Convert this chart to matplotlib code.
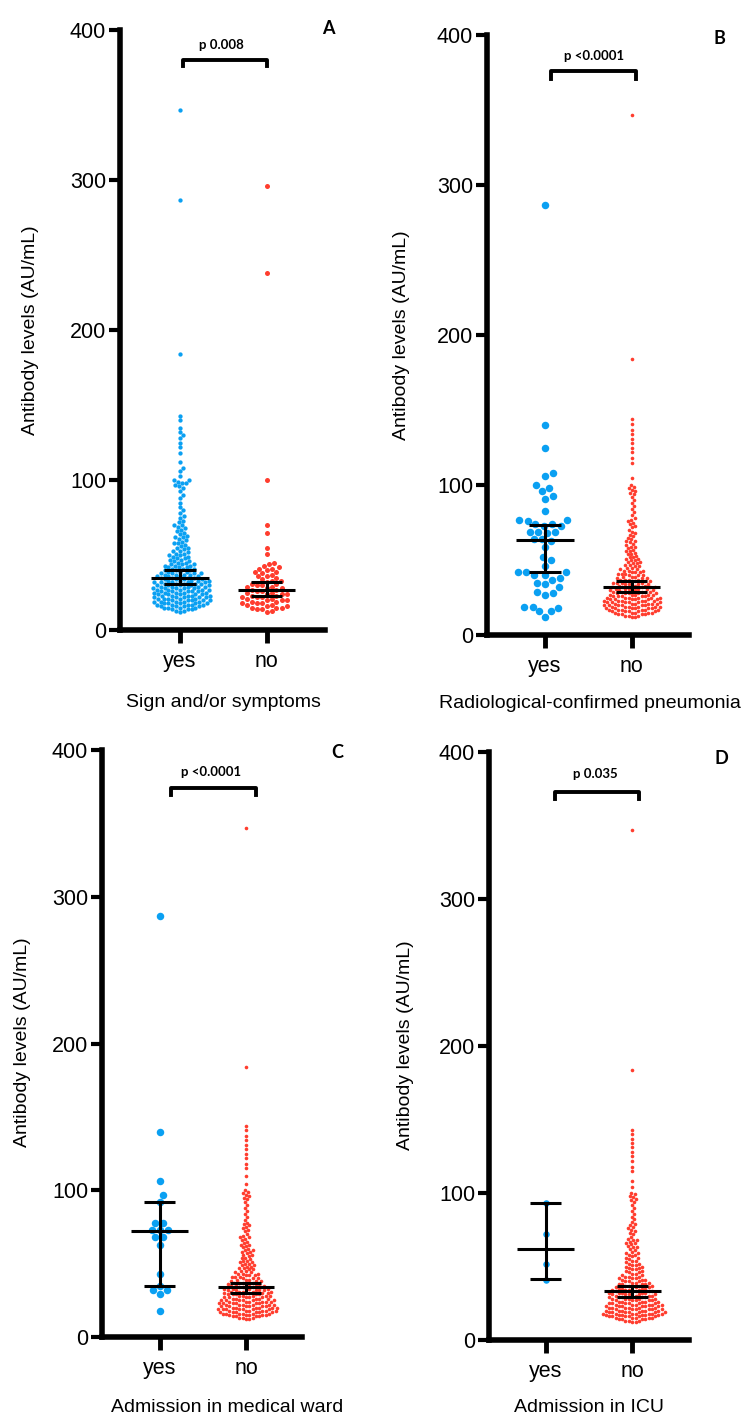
import numpy as np
import matplotlib
matplotlib.use("Agg")
import matplotlib.pyplot as plt

plt.rcParams['font.family'] = ['Liberation Sans', 'DejaVu Sans']

# ---- data ----
groups = ["yes", "no"]
# dense part of the big swarms: value (AU/mL) and number of dots at it
fine_levels = [12, 13, 14, 15, 16, 17, 18, 19, 20, 21,
               22, 23, 24, 25, 26, 27, 28, 29, 30, 31,
               32, 33, 34, 35, 36, 37, 38, 39, 40, 41,
               42, 43, 44, 45, 46, 47, 48, 49, 50, 51,
               52, 53, 54, 55, 56, 57, 58, 59, 60, 61,
               62, 63, 64, 65, 66, 67, 68, 69, 70]

# A: sign and/or symptoms
a_yes_counts = [1, 2, 3, 4, 4, 5, 5, 5, 5, 5,
                5, 5, 5, 5, 5, 5, 5, 5, 5, 5,
                5, 5, 4, 4, 4, 4, 4, 3, 3, 3,
                3, 3, 3, 2, 2, 2, 2, 2, 2, 2,
                1, 2, 1, 2, 1, 1, 2, 1, 1, 1,
                2, 1, 1, 1, 1, 1, 1, 1, 2]
a_yes_upper = [72, 73, 75, 76, 78, 80, 82, 85, 88, 90, 93, 95, 96, 97, 98, 98, 99, 100,
               100, 103, 106, 108, 112, 118, 122, 125, 128, 130, 132, 135, 140, 143,
               184, 287, 347]
a_no_values = [296, 238, 100, 70, 65, 55, 51,
               45, 44, 43, 42, 41, 41, 40, 39, 39, 38, 37, 36, 36, 35, 34, 33, 33, 32,
               31, 31, 30, 30, 29, 29, 28, 28, 27, 27, 26, 26, 25, 25, 24, 24, 24, 23,
               23, 22, 22, 22, 21, 21, 20, 20, 20, 19, 19, 18, 18, 18, 17, 17, 16, 16,
               15, 15, 15, 14, 14, 13, 12]

# B: radiological-confirmed pneumonia
b_yes_values = [287, 140, 125, 108, 106, 100, 98, 96, 93, 91, 83, 77, 77, 76, 74, 74,
                73, 73, 69, 69, 69, 68, 64, 64, 63, 59, 52, 50, 46, 42, 42, 42, 40,
                40, 38, 37, 35, 34, 32, 29, 28, 27, 19, 19, 18, 16, 16, 12]
b_no_counts = [2, 3, 4, 5, 5, 6, 6, 6, 6, 6,
               6, 6, 6, 6, 5, 5, 5, 5, 5, 5,
               5, 4, 4, 4, 4, 4, 3, 3, 3, 3,
               3, 3, 2, 2, 2, 2, 2, 2, 2, 2,
               2, 1, 2, 1, 2, 1, 1, 2, 1, 1,
               1, 2, 1, 1, 1, 1, 1, 1, 1]
b_no_upper = [72, 73, 74, 75, 76, 77, 78, 80, 82, 84, 86, 88, 90, 92, 94, 95, 96, 97,
              98, 99, 100, 105, 115, 118, 122, 125, 128, 131, 134, 137, 141, 144, 184, 347]

# C: admission in medical ward
c_yes_values = [287, 140, 106, 97, 92, 78, 78, 73, 73, 73, 68, 68, 63, 43, 35, 32, 32, 29, 18]
c_no_counts = [2, 3, 4, 5, 6, 6, 6, 7, 6, 6,
               6, 6, 6, 6, 5, 5, 5, 5, 5, 5,
               5, 5, 4, 4, 4, 4, 3, 3, 3, 3,
               3, 3, 2, 2, 2, 2, 2, 2, 2, 2,
               2, 1, 2, 1, 2, 1, 2, 2, 1, 1,
               1, 2, 1, 1, 1, 1, 2, 1, 1]
c_no_upper = [72, 73, 74, 75, 76, 77, 78, 80, 82, 84, 86, 88, 90, 92, 94, 95, 96, 97,
              98, 99, 100, 104, 110, 115, 118, 122, 125, 128, 131, 134, 137, 141, 144,
              184, 347]

# D: admission in ICU
d_yes_values = [93, 72, 52, 41]
d_no_counts = [2, 3, 4, 5, 6, 6, 7, 7, 6, 6,
               6, 6, 6, 6, 5, 5, 5, 5, 5, 5,
               5, 5, 4, 4, 4, 4, 4, 3, 3, 3,
               3, 3, 2, 2, 2, 2, 2, 2, 2, 2,
               2, 1, 2, 1, 2, 1, 2, 2, 1, 1,
               1, 2, 1, 1, 2, 1, 2, 1, 1]
d_no_upper = [72, 73, 74, 75, 76, 77, 78, 79, 80, 82, 84, 86, 88, 90, 92, 94, 95, 96,
              97, 98, 99, 100, 104, 108, 115, 118, 122, 125, 128, 131, 134, 137, 140,
              143, 184, 347]

# median and 95% CI drawn as error bars (yes, no)
a_median, a_lo, a_hi = [34.7, 26.7], [31, 23], [40, 32]
b_median, b_lo, b_hi = [63.3, 32], [42, 28.7], [73.3, 36]
c_median, c_lo, c_hi = [72, 34], [35, 30], [92, 37]
d_median, d_lo, d_hi = [62, 33], [41.5, 29], [93, 37]

p_labels = ["p 0.008", "p <0.0001", "p <0.0001", "p 0.035"]
x_titles = ["Sign and/or symptoms", "Radiological-confirmed pneumonia",
            "Admission in medical ward", "Admission in ICU"]
letters = ["A", "B", "C", "D"]

W, H = 755, 1425
BLUE = "#0aa0f2"
RED = "#ff3d2e"


def expand(counts, upper):
    return np.concatenate([np.repeat(fine_levels, counts), upper]).astype(float)


def swarm(vals_px, d):
    order = np.argsort(vals_px, kind="stable")
    xs = np.zeros(len(vals_px))
    px, py = [], []
    for i in order:
        y = vals_px[i]
        P = np.array(px)
        Q = np.array(py)
        x = 0.0
        if len(P):
            near = np.abs(Q - y) < d
            nx, ny = P[near], Q[near]
            if len(nx):
                dx = np.sqrt(d * d - (ny - y) ** 2)
                cands = np.concatenate([[0.0], nx + dx, nx - dx])
                cands = cands[np.argsort(np.abs(cands), kind="stable")]
                for c in cands:
                    if np.all((nx - c) ** 2 + (ny - y) ** 2 >= d * d - 1e-6):
                        x = c
                        break
        xs[i] = x
        px.append(x)
        py.append(y)
    return xs


# pixel layout: left, right, y of 0, y of 400, xlim
layout = [
    (120, 325, 630, 30, (-0.69, 1.67)),
    (487, 689, 635, 35, (-0.67, 1.66)),
    (102, 302, 1337, 750, (-0.67, 1.65)),
    (489, 689, 1340, 752, (-0.66, 1.66)),
]
data = [
    (expand(a_yes_counts, a_yes_upper), np.array(a_no_values, float), a_median, a_lo, a_hi),
    (np.array(b_yes_values, float), expand(b_no_counts, b_no_upper), b_median, b_lo, b_hi),
    (np.array(c_yes_values, float), expand(c_no_counts, c_no_upper), c_median, c_lo, c_hi),
    (np.array(d_yes_values, float), expand(d_no_counts, d_no_upper), d_median, d_lo, d_hi),
]
# dot diameter and swarm spacing, in pixels
dots = [(4.3, 5.0), (7.5, 3.6), (7.5, 3.6), (6.5, 3.6)]
gaps = [(4.1, 5.4), (8.2, 3.5), (8.2, 3.5), (7.0, 3.5)]
brackets = [(0.03, 1.0, 380, 376), (0.07, 1.05, 376, 371),
            (0.13, 1.12, 374, 369), (0.1, 1.08, 373, 368)]
p_pos = [(0.48, 390), (0.56, 386), (0.6, 385), (0.57, 385)]
ylab_px = [(31, 330), (402, 335), (23, 1042), (406, 1045)]
xlab_px = [(223, 707), (590, 708), (227, 1412), (589, 1412)]
letter_px = [(328, 29), (719, 39), (337, 753), (721, 758)]

fig = plt.figure(figsize=(W / 100, H / 100), dpi=100)

for k in range(4):
    left, right, y0, y400, xlim = layout[k]
    yes_v, no_v, med, lo, hi = data[k]
    ax = fig.add_axes([left / W, 1 - y0 / H, (right - left) / W, (y0 - y400) / H])
    ax.set_xlim(*xlim)
    ax.set_ylim(0, 400)
    ypx = (y0 - y400) / 400.0
    xpx = (right - left) / (xlim[1] - xlim[0])

    for gi, (vals, color) in enumerate([(yes_v, BLUE), (no_v, RED)]):
        dpx = dots[k][gi]
        offs = swarm(vals * ypx, gaps[k][gi]) / xpx
        ax.scatter(gi + offs, vals, s=(dpx * 0.72) ** 2, color=color,
                   linewidths=0, zorder=2, clip_on=False)
        ax.hlines(med[gi], gi - 0.33, gi + 0.33, color="black", lw=2.2, zorder=3)
        ax.hlines([lo[gi], hi[gi]], gi - 0.18, gi + 0.18, color="black", lw=2.2, zorder=3)
        ax.vlines(gi, lo[gi], hi[gi], color="black", lw=2.2, zorder=3)

    bx0, bx1, by, bend = brackets[k]
    ax.plot([bx0, bx0, bx1, bx1], [bend, by, by, bend], color="black", lw=2.8,
            solid_joinstyle="round", clip_on=False)
    ax.text(p_pos[k][0], p_pos[k][1], p_labels[k], ha="center", va="center",
            fontsize=9.5, fontweight="bold", family=["Lato", "DejaVu Sans"])

    for s in ["top", "right"]:
        ax.spines[s].set_visible(False)
    for s in ["left", "bottom"]:
        ax.spines[s].set_linewidth(4)
    ax.set_yticks([0, 100, 200, 300, 400])
    ax.set_xticks([0, 1], groups)
    ax.tick_params(axis="y", length=8, width=3, labelsize=15.5, pad=2)
    ax.tick_params(axis="x", length=9, width=3.5, labelsize=15.5, pad=6)

    fig.text(ylab_px[k][0] / W, 1 - ylab_px[k][1] / H, "Antibody levels (AU/mL)",
             rotation=90, ha="center", va="center", fontsize=14)
    fig.text(xlab_px[k][0] / W, 1 - xlab_px[k][1] / H, x_titles[k],
             ha="center", va="baseline", fontsize=14)
    fig.text(letter_px[k][0] / W, 1 - letter_px[k][1] / H, letters[k],
             ha="center", va="center", fontsize=13, fontweight="bold",
             family=["Lato", "DejaVu Sans"])

fig.savefig("out.png", dpi=100)
